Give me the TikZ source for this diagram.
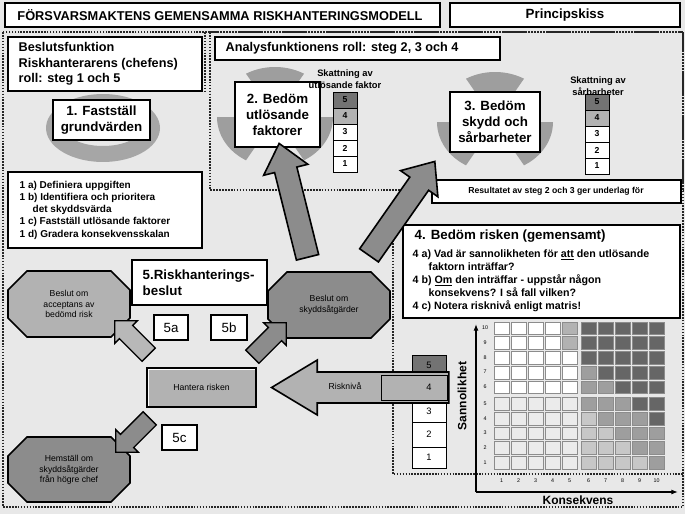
\documentclass[tikz,border=0pt]{standalone}
\usepackage{fontspec}
\setmainfont{Liberation Sans}
\usetikzlibrary{shapes.arrows,fit,arrows.meta}
\begin{document}
\begin{tikzpicture}[x=0.75pt,y=-0.75pt,
  wbox/.style={draw=black,line width=1.3pt,fill=white},
  dotb/.style={draw=black!85,line width=2.2pt,dash pattern=on 1.2pt off 1pt},
  bigarrow/.style={single arrow,draw=black,line width=1.2pt,fill=black!45,single arrow head extend=8.5pt,single arrow tip angle=80,inner sep=0pt},
  smallarrow/.style={single arrow,draw=black,line width=1pt,single arrow head extend=5pt,single arrow tip angle=90,inner sep=0pt},
  oct/.style={draw=black,line width=1.3pt},
  bt/.style={font=\bfseries\fontsize{9.5}{11.5}\selectfont,align=left},
  st/.style={font=\fontsize{6.5}{8}\selectfont,align=center},
  cell/.style={draw=black,line width=0.5pt,font=\fontsize{6.5}{8}\selectfont}
]
\useasboundingbox (0,0) rectangle (685,514);
\fill[black!9] (0,0) rectangle (685,514);
% title
\draw[wbox] (5,3) rectangle (440,27);
\node[font=\bfseries\fontsize{9.6}{12}\selectfont] (title) at (220,15) {FÖRSVARSMAKTENS GEMENSAMMA RISKHANTERINGSMODELL};
\draw[wbox] (450,3) rectangle (680,27);
\node[font=\bfseries\fontsize{10}{12}\selectfont] (princ) at (565,15) {Principskiss};
% dotted regions
\draw[dotb] (3,32) -- (3,507) -- (683,507) -- (683,32) -- cycle;
\draw[dotb] (205,32) -- (205,92);
\draw[dotb] (210,32) rectangle (683,190);
\draw[dotb] (393,205) -- (393,474) -- (683,474);
% left panel
\draw[wbox] (8,37) rectangle (202,91);
\node[bt,anchor=west] (beslf) at (14,64) {Beslutsfunktion\\Riskhanterarens (chefens)\\roll: steg 1 och 5};
\fill[black!35,even odd rule] plot[domain=0:360,samples=60] ({103+57*cos(\x)},{128+34*sin(\x)}) -- cycle
  plot[domain=0:360,samples=60] ({103+38*cos(\x)},{128+18*sin(\x)}) -- cycle;
\draw[wbox] (53,100) rectangle (150,140);
\node[font=\bfseries\fontsize{10}{12}\selectfont,align=center] (s1) at (101.5,120) {1. Fastställ\\grundvärden};
\draw[wbox] (8,172) rectangle (202,248);
\node[font=\bfseries\fontsize{7.5}{9.2}\selectfont,align=left,anchor=west] (s1list) at (15,210)
 {1 a) Definiera uppgiften\\1 b) Identifiera och prioritera\\\hspace*{1.3em}det skyddsvärda\\1 c) Fastställ utlösande faktorer\\1 d) Gradera konsekvensskalan};
% analysis
\draw[wbox] (215,37) rectangle (500,60);
\node[font=\bfseries\fontsize{9.5}{11}\selectfont,anchor=west] (anal) at (221,48.5) {Analysfunktionens roll: steg 2, 3 och 4};
\foreach \cx/\cy in {275/117, 495/122} {
 \foreach \a in {240,0,120} {
  \fill[black!38] plot[domain=\a:\a+60,samples=20] ({\cx+58*cos(\x)},{\cy+50*sin(\x)}) -- plot[domain=\a+60:\a,samples=20] ({\cx+22*cos(\x)},{\cy+20*sin(\x)}) -- cycle;
 }}
\draw[wbox] (235,82) rectangle (320,147);
\node[font=\bfseries\fontsize{10}{12}\selectfont,align=center] (s2) at (277.5,114.5) {2. Bedöm\\utlösande\\faktorer};
\draw[wbox] (450,92) rectangle (540,152);
\node[font=\bfseries\fontsize{10}{12}\selectfont,align=center] (s3) at (495,122) {3. Bedöm\\skydd och\\sårbarheter};
\node[bt,font=\bfseries\fontsize{7}{8.5}\selectfont,align=center] (sk1) at (345,79) {Skattning av\\utlösande faktor};
\node[bt,font=\bfseries\fontsize{7}{8.5}\selectfont,align=center] (sk2) at (598,86) {Skattning av\\sårbarheter};
\foreach \x/\ys in {333/92, 585/94} {
 \foreach \n/\f in {5/55,4/30,3/0,2/0,1/0} {
  \pgfmathsetmacro\yy{\ys+(5-\n)*16}
  \draw[cell,fill=black!\f] (\x,\yy) rectangle (\x+24,\yy+16);
  \node[font=\bfseries\fontsize{6.5}{8}\selectfont] at (\x+12,\yy+8) {\n};
 }}
\draw[wbox] (432,180) rectangle (681,203);
\node[font=\bfseries\fontsize{6.5}{8}\selectfont] (res) at (556,191.5) {Resultatet av steg 2 och 3 ger underlag för};
% step 4
\draw[wbox] (403,225) rectangle (680,318);
\node[font=\bfseries\fontsize{10}{12}\selectfont,anchor=west] (s4) at (410,236) {4. Bedöm risken (gemensamt)};
\node[font=\bfseries\fontsize{8}{9.8}\selectfont,align=left,anchor=north west] (s4t) at (408,245)
 {4 a) Vad är sannolikheten för \underline{att} den utlösande\\\hspace*{1.5em}faktorn inträffar?\\4 b) \underline{Om} den inträffar - uppstår någon\\\hspace*{1.5em}konsekvens? I så fall vilken?\\4 c) Notera risknivå enligt matris!};
% matrix
\foreach \c in {1,...,10} { \foreach \r in {1,...,10} {
  \pgfmathsetmacro\xx{493+(\c-1)*17+(\c>5)*2}
  \pgfmathsetmacro\yy{470-\r*14.7-(\r>5)*2}
  \pgfmathtruncatemacro\s{ifthenelse(\c<6, ifthenelse(and(\c==5,\r>8),30,ifthenelse(\r<6,8,0)), ifthenelse(\r+\c-5>8,60,ifthenelse(\r+\c-5>5,38,22)))}
  \draw[draw=black!45,line width=0.4pt,fill=black!\s] (\xx+1,\yy+1) rectangle (\xx+16,\yy+13.7);
 }}
\foreach \r in {1,...,10} { \pgfmathsetmacro\yy{470-\r*14.7-(\r>5)*2+7} \node[font=\fontsize{4}{5}\selectfont] at (485,\yy) {\r}; }
\foreach \c in {1,...,10} { \pgfmathsetmacro\xx{493+(\c-1)*17+(\c>5)*2+8.5} \node[font=\fontsize{4}{5}\selectfont] at (\xx,481) {\c}; }
\coordinate (ax0) at (476,492);
\coordinate (axy) at (476,324);
\coordinate (axx) at (678,492);
\draw[line width=0.9pt,-{Latex[length=5pt]}] (ax0) -- (axy);
\draw[line width=0.9pt,-{Latex[length=5pt]}] (ax0) -- (axx);
\node[font=\bfseries\fontsize{9}{11}\selectfont,rotate=90] (sann) at (462,396) {Sannolikhet};
\node[font=\bfseries\fontsize{9}{11}\selectfont] (kons) at (578,500) {Konsekvens};
% risk scale bottom
\foreach \n/\f/\yy/\hh in {5/55/355/20,3/0/400/22,2/0/422/25,1/0/447/21} {
  \draw[cell,fill=black!\f] (412,\yy) rectangle (446,\yy+\hh);
  \node[font=\fontsize{7}{8}\selectfont] at (429,\yy+\hh/2) {\n};
}
% section 5
\draw[wbox] (147,368) rectangle (256,407);
\fill[black!30] (148.5,369.5) rectangle (254.5,405.5);
\node[st] (hant) at (201.5,387.5) {Hantera risken};
\node[single arrow,draw=black,line width=1.2pt,fill=black!30,minimum height=133pt,single arrow head extend=9pt,single arrow tip angle=62,inner sep=0pt,shape border rotate=180,anchor=tip] (rarr) at (270,387.5) {\rule{0pt}{22pt}};
\node[st] (rn) at (345,386) {Risknivå};
\draw[cell,fill=black!30] (381,375) rectangle (447,400);
\node[font=\fontsize{7}{8}\selectfont] at (429,387.5) {4};
\draw[wbox] (132,260) rectangle (267,305);
\node[font=\bfseries\fontsize{10}{12}\selectfont,align=left,anchor=west] (s5) at (138,282.5) {5.Riskhanterings-\\beslut};
\draw[oct,fill=black!30] (27,271) -- (111,271) -- (130,290) -- (130,318) -- (111,337) -- (27,337) -- (8,318) -- (8,290) -- cycle;
\node[st] (o1) at (69,304) {Beslut om\\acceptans av\\bedömd risk};
\draw[oct,fill=black!45] (287,272) -- (371,272) -- (390,291) -- (390,319) -- (371,338) -- (287,338) -- (268,319) -- (268,291) -- cycle;
\node[st] (o2) at (329,305) {Beslut om\\skyddsåtgärder};
\draw[oct,fill=black!45] (27,437) -- (111,437) -- (130,456) -- (130,483) -- (111,502) -- (27,502) -- (8,483) -- (8,456) -- cycle;
\node[st] (o3) at (69,470) {Hemställ om\\skyddsåtgärder\\från högre chef};
\draw[wbox] (154,315) rectangle (188,340); \node[font=\fontsize{10}{12}\selectfont] (l5a) at (171,327.5) {5a};
\draw[wbox] (211,315) rectangle (247,340); \node[font=\fontsize{10}{12}\selectfont] (l5b) at (229,327.5) {5b};
\draw[wbox] (162,425) rectangle (197,450); \node[font=\fontsize{10}{12}\selectfont] (l5c) at (179.5,437.5) {5c};
\node[smallarrow,fill=black!28,minimum height=36pt,rotate=135] (a5a) at (135,341) {\rule{0pt}{13pt}};
\node[smallarrow,fill=black!45,minimum height=36pt,rotate=45] (a5b) at (266,343) {\rule{0pt}{13pt}};
\node[smallarrow,fill=black!45,minimum height=36pt,rotate=225] (a5c) at (136,432) {\rule{0pt}{13pt}};
% big arrows
\node[bigarrow,minimum height=88pt,rotate=104] (ba1) at (295,207) {\rule{0pt}{16pt}};
\node[bigarrow,minimum height=86pt,rotate=55] (ba2) at (398,214) {\rule{0pt}{16pt}};
\end{tikzpicture}
\end{document}
